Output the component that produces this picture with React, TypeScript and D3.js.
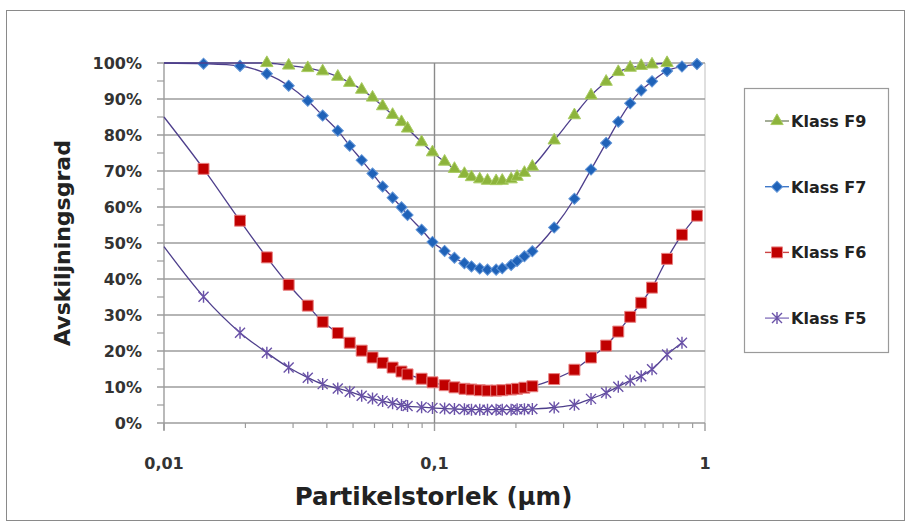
import React, { useEffect, useRef } from 'react';
import * as d3 from 'd3';

// particle sizes (µm) where markers sit
const sizes = [
  0.014, 0.0191, 0.024, 0.0289, 0.034, 0.0386, 0.0439, 0.0486, 0.0538, 0.059,
  0.0643, 0.07, 0.0755, 0.0795, 0.0896, 0.0983, 0.109, 0.1185, 0.129, 0.137,
  0.147, 0.157, 0.169, 0.178, 0.192, 0.202, 0.215, 0.23, 0.277, 0.329,
  0.379, 0.431, 0.478, 0.529, 0.581, 0.637, 0.724, 0.822, 0.934,
];

const klassF9 = [
  null, null, 100, 99.3, 98.6, 97.7, 96.2, 94.5, 92.6, 90.4,
  88, 85.6, 83.6, 81.8, 78, 75.2, 72.6, 70.6, 69.2, 68.3,
  67.7, 67.3, 67.2, 67.3, 67.7, 68.4, 69.5, 71.2, 78.5, 85.5,
  91, 94.8, 97.5, 98.7, 99.2, 99.6, 100, null, null,
];
const klassF7 = [
  99.8, 99.2, 97, 93.7, 89.5, 85.4, 81.2, 77, 73, 69.3,
  65.7, 62.6, 59.9, 57.8, 53.7, 50.3, 47.8, 45.9, 44.4, 43.5,
  42.9, 42.6, 42.6, 43, 43.9, 45, 46.3, 47.7, 54.3, 62.3,
  70.4, 77.8, 83.7, 88.8, 92.4, 94.9, 97.8, 99, 99.7,
];
const klassF6 = [
  70.6, 56.2, 46, 38.4, 32.6, 28.1, 25, 22.3, 20.1, 18.2,
  16.7, 15.4, 14.3, 13.5, 12.3, 11.3, 10.5, 9.9, 9.5, 9.3,
  9.1, 9, 9, 9.1, 9.3, 9.5, 9.8, 10.2, 12.2, 14.8,
  18.2, 21.5, 25.4, 29.5, 33.4, 37.6, 45.6, 52.3, 57.6,
];
const klassF5 = [
  35.1, 25.1, 19.5, 15.4, 12.6, 10.8, 9.6, 8.7, 7.6, 6.8,
  6.1, 5.5, 5, 4.7, 4.4, 4.2, 4, 3.9, 3.8, 3.7,
  3.7, 3.7, 3.7, 3.7, 3.7, 3.8, 3.8, 3.9, 4.3, 5.1,
  6.7, 8.4, 10.1, 11.8, 13, 14.9, 19, 22.3, null,
];

// curves start at the left edge (no marker there)
const startSize = 0.01;
const startValues = [100, 100, 85, 49];

const seriesNames = ['Klass F9', 'Klass F7', 'Klass F6', 'Klass F5'];
const seriesValues = [klassF9, klassF7, klassF6, klassF5];

const yTicks = [0, 10, 20, 30, 40, 50, 60, 70, 80, 90, 100];
const xTicks = [0.01, 0.1, 1];
const xTickLabels = ['0,01', '0,1', '1'];

const FONT = '"DejaVu Sans", sans-serif';

const starPath = (r) =>
  `M${-r},${-r}L${r},${r}M${-r},${r}L${r},${-r}M0,${-r * 1.2}L0,${r * 1.2}`;

const drawMarker = (sel, i) => {
  if (i === 0) {
    sel.append('path')
      .attr('d', d3.symbol(d3.symbolTriangle, 66)())
      .attr('fill', '#8db43c').attr('stroke', '#a9cc62').attr('stroke-width', 1);
  } else if (i === 1) {
    sel.append('path')
      .attr('d', d3.symbol(d3.symbolSquare, 62)())
      .attr('transform', 'rotate(45)')
      .attr('fill', '#1f62b8').attr('stroke', '#5f93d6').attr('stroke-width', 1);
  } else if (i === 2) {
    sel.append('path')
      .attr('d', d3.symbol(d3.symbolSquare, 120)())
      .attr('fill', '#c00000').attr('stroke', '#e88080').attr('stroke-width', 1);
  } else {
    sel.append('path')
      .attr('d', starPath(5))
      .attr('fill', 'none').attr('stroke', '#6a52a8').attr('stroke-width', 1.4);
  }
};

const legendLineColors = ['#7d8a6a', '#3f78c8', '#cc4444', '#8a78c0'];

const App = () => {
  const svgRef = useRef();
  const width = 906, height = 528;
  const margin = { top: 63, left: 164, right: 201, bottom: 105 };
  const innerW = width - margin.left - margin.right;
  const innerH = height - margin.top - margin.bottom;

  useEffect(() => {
    const svg = d3.select(svgRef.current);
    svg.selectAll('*').remove();

    // outer frame
    svg.append('rect')
      .attr('x', 6.5).attr('y', 10.5).attr('width', 898).attr('height', 510)
      .attr('fill', '#fff').attr('stroke', '#8a8a8a').attr('stroke-width', 1);

    const x = d3.scaleLog().domain([0.01, 1]).range([0, innerW]);
    const y = d3.scaleLinear().domain([0, 100]).range([innerH, 0]);

    const g = svg.append('g').attr('transform', `translate(${margin.left},${margin.top})`);

    // right edge
    g.append('line')
      .attr('x1', innerW).attr('x2', innerW).attr('y1', 0).attr('y2', innerH)
      .attr('stroke', '#d4d4d4').attr('stroke-width', 1.5);

    // horizontal grid + y ticks
    g.selectAll('.grid')
      .data(yTicks)
      .enter().append('line')
      .attr('x1', -7).attr('x2', innerW)
      .attr('y1', d => y(d)).attr('y2', d => y(d))
      .attr('stroke', '#9c9c9c').attr('stroke-width', 1.4);

    g.selectAll('.minorY')
      .data(yTicks.slice(1).map(d => d - 5))
      .enter().append('line')
      .attr('x1', -7).attr('x2', 0)
      .attr('y1', d => y(d)).attr('y2', d => y(d))
      .attr('stroke', '#9c9c9c').attr('stroke-width', 1.2);

    // vertical line at 0.1
    g.append('line')
      .attr('x1', x(0.1)).attr('x2', x(0.1)).attr('y1', 0).attr('y2', innerH)
      .attr('stroke', '#8a8a8a').attr('stroke-width', 1.4);

    // y axis line
    g.append('line')
      .attr('x1', 0).attr('x2', 0).attr('y1', 0).attr('y2', innerH + 7)
      .attr('stroke', '#9c9c9c').attr('stroke-width', 1.4);

    // x minor ticks
    const minor = [];
    [0.01, 0.1].forEach(dec => { for (let k = 2; k <= 9; k++) minor.push(dec * k); });
    g.selectAll('.minorX')
      .data(minor)
      .enter().append('line')
      .attr('x1', d => x(d)).attr('x2', d => x(d))
      .attr('y1', innerH).attr('y2', innerH + 5)
      .attr('stroke', '#9c9c9c').attr('stroke-width', 1.2);
    g.selectAll('.majorX')
      .data(xTicks)
      .enter().append('line')
      .attr('x1', d => x(d)).attr('x2', d => x(d))
      .attr('y1', innerH).attr('y2', innerH + 8)
      .attr('stroke', '#9c9c9c').attr('stroke-width', 1.4);

    // tick labels
    g.selectAll('.ylab')
      .data(yTicks)
      .enter().append('text')
      .attr('x', -22).attr('y', d => y(d) + 6)
      .attr('text-anchor', 'end')
      .style('font-family', FONT).style('font-size', '16px').style('font-weight', 'bold')
      .attr('fill', '#333')
      .text(d => `${d}%`);

    g.selectAll('.xlab')
      .data(xTicks)
      .enter().append('text')
      .attr('x', d => x(d)).attr('y', innerH + 46)
      .attr('text-anchor', 'middle')
      .style('font-family', FONT).style('font-size', '16px').style('font-weight', 'bold')
      .attr('fill', '#333')
      .text((d, i) => xTickLabels[i]);

    // axis titles
    svg.append('text')
      .attr('transform', `translate(70,${margin.top + innerH / 2}) rotate(-90)`)
      .attr('text-anchor', 'middle')
      .style('font-family', FONT).style('font-size', '22px').style('font-weight', 'bold')
      .attr('fill', '#222')
      .text('Avskiljningsgrad');

    svg.append('text')
      .attr('x', margin.left + innerW / 2 - 1).attr('y', 505)
      .attr('text-anchor', 'middle')
      .style('font-family', FONT).style('font-size', '24.5px').style('font-weight', 'bold')
      .attr('fill', '#222')
      .text('Partikelstorlek (µm)');

    // series
    const line = d3.line()
      .x(d => x(d[0])).y(d => y(d[1]))
      .curve(d3.curveMonotoneX);

    const order = [3, 2, 1, 0];
    order.forEach(i => {
      const vals = seriesValues[i];
      const pts = [[startSize, startValues[i]]];
      sizes.forEach((s, j) => { if (vals[j] != null) pts.push([s, vals[j]]); });
      g.append('path')
        .attr('d', line(pts))
        .attr('fill', 'none')
        .attr('stroke', '#4e3f8c')
        .attr('stroke-width', 1.3);

      const mk = g.append('g');
      pts.slice(1).forEach(p => {
        const m = mk.append('g').attr('transform', `translate(${x(p[0])},${y(p[1])})`);
        drawMarker(m, i);
      });
    });

    // legend
    const lg = svg.append('g');
    lg.append('rect')
      .attr('x', 744.5).attr('y', 88.5).attr('width', 144).attr('height', 264)
      .attr('fill', '#fff').attr('stroke', '#9a9a9a').attr('stroke-width', 1.2);
    seriesNames.forEach((name, i) => {
      const cy = 121 + i * 65.7;
      lg.append('line')
        .attr('x1', 765).attr('x2', 789).attr('y1', cy).attr('y2', cy)
        .attr('stroke', legendLineColors[i]).attr('stroke-width', 1.4);
      const m = lg.append('g').attr('transform', `translate(777,${cy})`);
      drawMarker(m, i);
      lg.append('text')
        .attr('x', 791).attr('y', cy + 6)
        .style('font-family', FONT).style('font-size', '16px').style('font-weight', 'bold')
        .attr('fill', '#222')
        .text(name);
    });
  }, []);

  return (
    <svg
      ref={svgRef}
      width={width}
      height={height}
      style={{ position: 'absolute', left: 0, top: 0, background: '#fff' }}
    />
  );
};

export default App;
